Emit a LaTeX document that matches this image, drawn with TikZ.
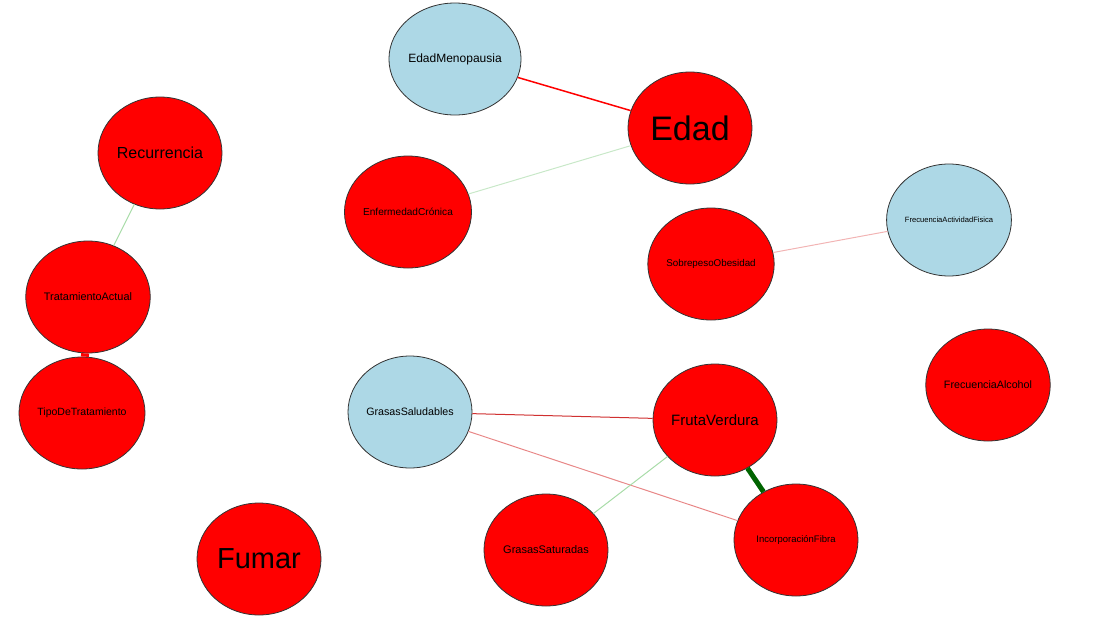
\documentclass[tikz,border=0pt]{standalone}
\usepackage{fontspec}
\setmainfont{Liberation Sans}
\usetikzlibrary{shapes.geometric}
\definecolor{nodered}{HTML}{FF0000}
\definecolor{nodeblue}{HTML}{ADD8E6}
\definecolor{outline}{HTML}{333333}
\definecolor{palegreen}{HTML}{C8E8C8}
\definecolor{litegreen}{HTML}{A8DCA8}
\definecolor{darkgreen}{HTML}{006400}
\definecolor{palepink}{HTML}{F2B4B4}
\definecolor{midred}{HTML}{D03030}
\definecolor{pinkred}{HTML}{E88888}
\newcommand{\fs}[1]{\fontsize{#1}{#1}\selectfont}
\tikzset{
  vnode/.style={ellipse, draw=outline, line width=0.8pt, minimum width=124pt, minimum height=112pt, inner sep=0pt, text=black},
  rnode/.style={vnode, fill=nodered},
  bnode/.style={vnode, fill=nodeblue},
  edge/.style={line width=1pt},
}
\begin{document}
\begin{tikzpicture}[x=1pt,y=-1pt]
\useasboundingbox (0,0) rectangle (1093,630);
% edges
\begin{scope}
\end{scope}
\node[bnode] (em) at (455,59) {\fs{12}EdadMenopausia};
\node[rnode] (ed) at (690,128) {\fs{34}Edad};
\node[rnode] (rc) at (160,153) {\fs{16}Recurrencia};
\node[rnode] (ec) at (408,212) {\fs{10.1}EnfermedadCrónica};
\node[bnode] (fa) at (949,220) {\fs{7.6}FrecuenciaActividadFisica};
\node[rnode] (so) at (711,264) {\fs{9.8}SobrepesoObesidad};
\node[rnode] (ta) at (88,297) {\fs{10.9}TratamientoActual};
\node[rnode] (tt) at (82,413) {\fs{10.5}TipoDeTratamiento};
\node[bnode] (gs) at (410,412) {\fs{10.7}GrasasSaludables};
\node[rnode] (fv) at (715,420) {\fs{15}FrutaVerdura};
\node[rnode] (fal) at (988,385) {\fs{10.7}FrecuenciaAlcohol};
\node[rnode] (fu) at (259,559) {\fs{29}Fumar};
\node[rnode] (gsa) at (546,550) {\fs{11}GrasasSaturadas};
\node[rnode] (inf) at (796,540) {\fs{9.5}IncorporaciónFibra};
% connectors
\draw[edge, nodered, line width=1.5pt] (em) -- (ed);
\draw[edge, palegreen] (ed) -- (ec);
\draw[edge, litegreen] (rc) -- (ta);
\draw[edge, nodered, line width=8pt] (ta) -- (tt);
\draw[edge, palepink] (so) -- (fa);
\draw[edge, midred] (gs) -- (fv);
\draw[edge, pinkred] (gs) -- (inf);
\draw[edge, litegreen] (fv) -- (gsa);
\draw[edge, darkgreen, line width=5pt] (fv) -- (inf);
\end{tikzpicture}
\end{document}
